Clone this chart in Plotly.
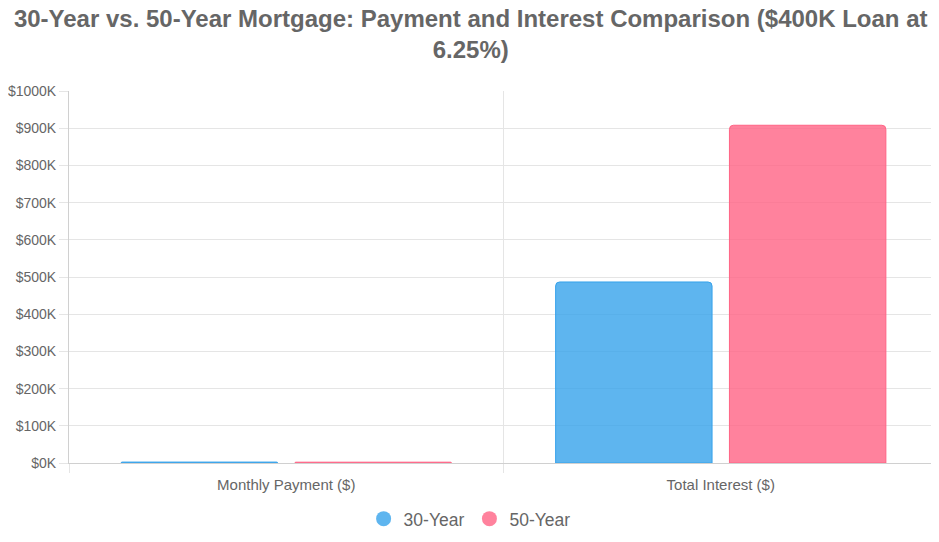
import plotly.graph_objects as go

categories = ["Monthly Payment ($)", "Total Interest ($)"]
series_names = ["30-Year", "50-Year"]
values_30 = [2462.87, 486633]
values_50 = [2179.89, 907934]
y_tick_vals = [0, 100000, 200000, 300000, 400000, 500000, 600000, 700000, 800000, 900000, 1000000]
y_tick_text = ["$0K", "$100K", "$200K", "$300K", "$400K", "$500K", "$600K", "$700K", "$800K", "$900K", "$1000K"]

fill_colors = ["rgba(54,162,235,0.8)", "rgba(255,99,132,0.8)"]
line_colors = ["rgba(54,162,235,1)", "rgba(255,99,132,1)"]

fig = go.Figure()
for name, vals, fc, lc in zip(series_names, [values_30, values_50], fill_colors, line_colors):
    fig.add_trace(go.Bar(
        x=categories, y=vals, name=name, showlegend=False,
        marker=dict(color=fc, line=dict(color=lc, width=1), cornerradius=4),
    ))
for name, fc in zip(series_names, fill_colors):
    fig.add_trace(go.Scatter(
        x=[None], y=[None], name=name, mode="markers",
        marker=dict(color=fc, size=15, symbol="circle"),
    ))

fig.update_layout(
    width=931, height=534,
    paper_bgcolor="white", plot_bgcolor="white",
    font=dict(family="Liberation Sans, Arial, sans-serif", color="#666", size=15),
    title=dict(
        text="30-Year vs. 50-Year Mortgage: Payment and Interest Comparison ($400K Loan at<br>6.25%)",
        x=0.497, xanchor="center", xref="container", yref="container", y=0.964, yanchor="middle",
        font=dict(size=24, color="#666", family="Liberation Sans, Arial, sans-serif", weight="bold"),
    ),
    margin=dict(l=61, r=1, t=83, b=79),
    barmode="group", bargap=0.2, bargroupgap=0.1,
    showlegend=True,
    legend=dict(orientation="h", x=0.461, xanchor="center", y=-0.15, yanchor="middle",
                font=dict(size=17.5, color="#666")),
    xaxis=dict(
        tickson="boundaries", showgrid=True, gridcolor="#e5e5e5", gridwidth=1,
        ticks="outside", ticklen=9, tickcolor="#e5e5e5",
        showline=True, linecolor="#d0d0d0", linewidth=1,
        tickfont=dict(size=15, color="#666"), automargin=False, ticklabelstandoff=8,
    ),
    yaxis=dict(
        range=[0, 1000000], tickvals=y_tick_vals, ticktext=y_tick_text,
        showgrid=True, gridcolor="#e5e5e5", gridwidth=1,
        ticks="outside", ticklen=9, tickcolor="#e5e5e5",
        showline=True, linecolor="#d0d0d0", linewidth=1,
        zeroline=False, tickfont=dict(size=14, color="#666"), automargin=False,
    ),
)

fig.write_html("out.html")
